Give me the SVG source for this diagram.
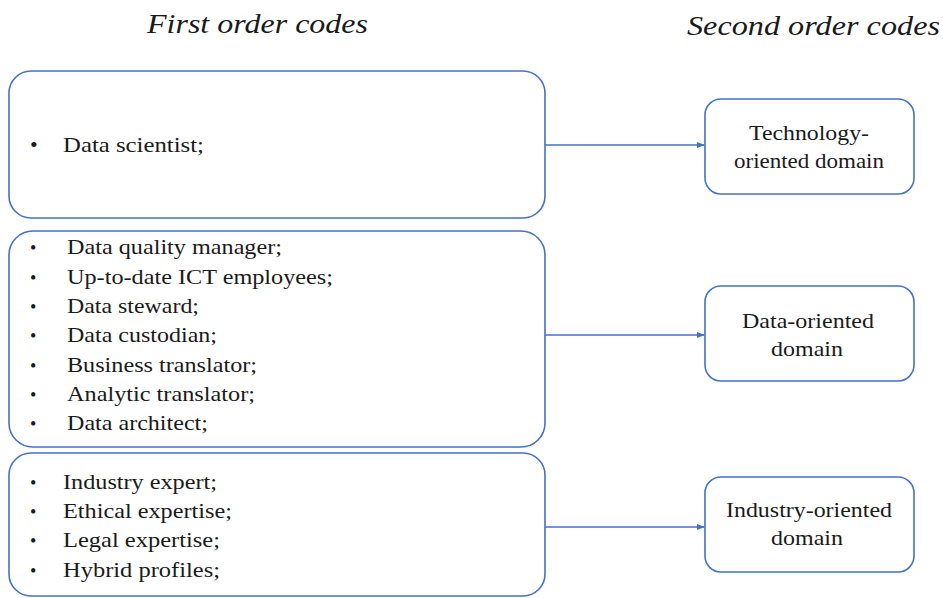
<svg xmlns="http://www.w3.org/2000/svg" width="943" height="598" viewBox="0 0 943 598">
<style>
.box{fill:#fff;stroke:#4472C4;stroke-width:1.6}
.t{font-family:"Liberation Serif","Times New Roman","DejaVu Serif",serif;font-size:22px;fill:#1a1a1a}
.c{text-anchor:middle}
.h{font-family:"Liberation Serif","Times New Roman","DejaVu Serif",serif;font-style:italic;font-size:27px;fill:#1a1a1a}
.conn{stroke:#4472C4;stroke-width:1.6;fill:none}
</style>
<defs>
<marker id="arr" markerWidth="8" markerHeight="8" refX="7" refY="4" orient="auto" markerUnits="userSpaceOnUse">
<path d="M0,1 L8,4 L0,7 Z" fill="#4472C4"/>
</marker>
</defs>
<text class="h" x="147" y="33" textLength="221" lengthAdjust="spacingAndGlyphs">First order codes</text>
<text class="h" x="687" y="35" textLength="253" lengthAdjust="spacingAndGlyphs">Second order codes</text>
<g id="box1">
<rect class="box" x="9" y="71" width="536" height="147" rx="22"/>
<text class="t" x="30" y="152" font-size="18">•</text>
<text class="t" x="63" y="152" textLength="141" lengthAdjust="spacingAndGlyphs">Data scientist;</text>
</g>
<g id="box2">
<rect class="box" x="9" y="231" width="536" height="216" rx="24"/>
<g class="t">
<text x="30" y="254" font-size="18">•</text><text x="67" y="254" textLength="215" lengthAdjust="spacingAndGlyphs">Data quality manager;</text>
<text x="30" y="284" font-size="18">•</text><text x="67" y="284" textLength="266" lengthAdjust="spacingAndGlyphs">Up-to-date ICT employees;</text>
<text x="30" y="313" font-size="18">•</text><text x="67" y="313" textLength="132" lengthAdjust="spacingAndGlyphs">Data steward;</text>
<text x="30" y="342" font-size="18">•</text><text x="67" y="342" textLength="150" lengthAdjust="spacingAndGlyphs">Data custodian;</text>
<text x="30" y="372" font-size="18">•</text><text x="67" y="372" textLength="190" lengthAdjust="spacingAndGlyphs">Business translator;</text>
<text x="30" y="401" font-size="18">•</text><text x="67" y="401" textLength="188" lengthAdjust="spacingAndGlyphs">Analytic translator;</text>
<text x="30" y="430" font-size="18">•</text><text x="67" y="430" textLength="141" lengthAdjust="spacingAndGlyphs">Data architect;</text>
</g>
</g>
<g id="box3">
<rect class="box" x="9" y="453" width="536" height="143" rx="22"/>
<g class="t">
<text x="30" y="489" font-size="18">•</text><text x="63" y="489" textLength="154" lengthAdjust="spacingAndGlyphs">Industry expert;</text>
<text x="30" y="518" font-size="18">•</text><text x="63" y="518" textLength="169" lengthAdjust="spacingAndGlyphs">Ethical expertise;</text>
<text x="30" y="547" font-size="18">•</text><text x="63" y="547" textLength="157" lengthAdjust="spacingAndGlyphs">Legal expertise;</text>
<text x="30" y="577" font-size="18">•</text><text x="63" y="577" textLength="157" lengthAdjust="spacingAndGlyphs">Hybrid profiles;</text>
</g>
</g>
<g id="tech">
<rect class="box" x="705" y="99" width="209" height="95" rx="16"/>
<text class="t c" x="809" y="140" textLength="120" lengthAdjust="spacingAndGlyphs">Technology-</text>
<text class="t c" x="809" y="168" textLength="150" lengthAdjust="spacingAndGlyphs">oriented domain</text>
</g>
<g id="data">
<rect class="box" x="705" y="286" width="209" height="95" rx="16"/>
<text class="t c" x="808" y="328" textLength="132" lengthAdjust="spacingAndGlyphs">Data-oriented</text>
<text class="t c" x="807" y="356" textLength="72" lengthAdjust="spacingAndGlyphs">domain</text>
</g>
<g id="industry">
<rect class="box" x="705" y="477" width="209" height="95" rx="16"/>
<text class="t c" x="809" y="517" textLength="166" lengthAdjust="spacingAndGlyphs">Industry-oriented</text>
<text class="t c" x="807" y="545" textLength="72" lengthAdjust="spacingAndGlyphs">domain</text>
</g>
<g id="connectors">
<line class="conn" x1="545" y1="145" x2="704" y2="145" marker-end="url(#arr)"/>
<line class="conn" x1="545" y1="335" x2="704" y2="335" marker-end="url(#arr)"/>
<line class="conn" x1="545" y1="527" x2="704" y2="527" marker-end="url(#arr)"/>
</g>
</svg>
